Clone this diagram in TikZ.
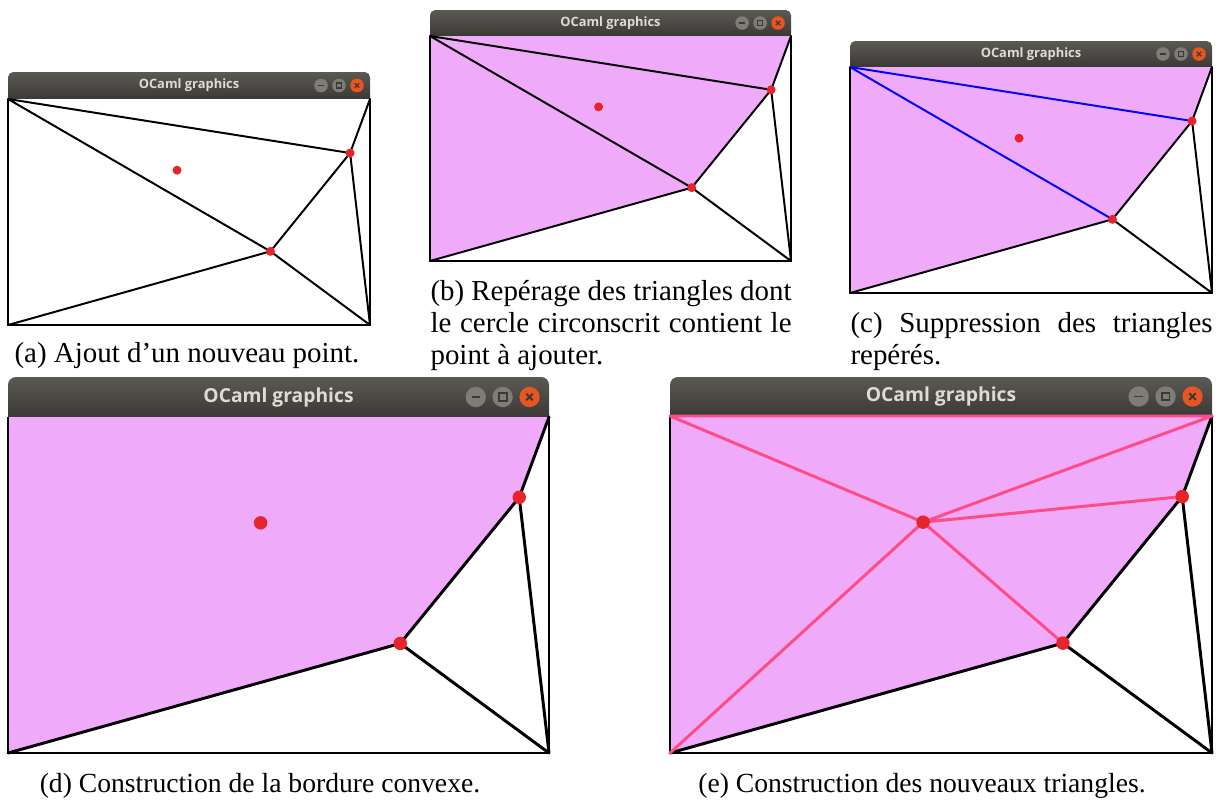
\documentclass[tikz,border=0pt]{standalone}
\usepackage{fontspec}
\setmainfont{Liberation Serif}
\newfontfamily\fontfen{Open Sans}

\definecolor{rose}{RGB}{240,170,250}
\definecolor{rouge}{RGB}{230,36,42}
\definecolor{rosevif}{RGB}{255,76,132}
\definecolor{barhaut}{RGB}{92,89,84}
\definecolor{barbas}{RGB}{58,57,53}
\definecolor{titre}{RGB}{223,219,210}
\definecolor{bouton}{RGB}{126,124,118}
\definecolor{fermer}{RGB}{232,84,34}

% fenetre : nom, x gauche, x droite, haut barre, bas barre, bas
\newcommand{\fenetre}[6]{%
  \pgfmathsetmacro{\echelle}{(#3-#2)/362}
  \coordinate (#1tl) at (#2,#5);
  \coordinate (#1tr) at (#3,#5);
  \coordinate (#1bl) at (#2,#6);
  \coordinate (#1br) at (#3,#6);
  \coordinate (#1p) at ({#2+0.945*(#3-#2)},{#5+0.239*(#6-#5)});
  \coordinate (#1q) at ({#2+0.725*(#3-#2)},{#5+0.674*(#6-#5)});
  \coordinate (#1n) at ({#2+0.467*(#3-#2)},{#5+0.315*(#6-#5)});
  % barre de titre
  \shade[top color=barhaut, bottom color=barbas]
    (#2,#5) [rounded corners=\echelle*2pt] -- (#2,#4) -- (#3,#4) [sharp corners] -- (#3,#5) -- cycle;
  \node[titrefen, scale=\echelle] (#1titre) at ({(#2+#3)/2},{(#4+#5)/2}) {OCaml graphics};
  \coordinate (#1min) at ({#3-49*\echelle},{(#4+#5)/2});
  \coordinate (#1max) at ({#3-31*\echelle},{(#4+#5)/2});
  \coordinate (#1fer) at ({#3-13*\echelle},{(#4+#5)/2});
  \fill[bouton] (#1min) circle[radius=6.8*\echelle] (#1max) circle[radius=6.8*\echelle];
  \fill[fermer] (#1fer) circle[radius=6.8*\echelle];
  \draw[glyphe] (#1min) ++(-2.8*\echelle,0) -- ++(5.6*\echelle,0);
  \draw[glyphe] (#1max) ++(-2.6*\echelle,-2.6*\echelle) rectangle ++(5.2*\echelle,5.2*\echelle);
  \draw[glyphe] (#1fer) ++(-2.2*\echelle,-2.2*\echelle) -- ++(4.4*\echelle,4.4*\echelle)
                (#1fer) ++(-2.2*\echelle,2.2*\echelle) -- ++(4.4*\echelle,-4.4*\echelle);
  % zone de dessin
  \fill[white] (#1tl) rectangle (#1br);
}

\begin{document}
\begin{tikzpicture}[x=0.38pt, y=-0.38pt,
    titrefen/.style={text=titre, inner sep=0pt, font=\fontfen\bfseries\fontsize{4.9}{6}\selectfont},
    glyphe/.style={barbas, line width=\echelle*0.5pt},
    arete/.style={line width=\echelle*0.75pt, line cap=round},
    cadre/.style={line width=\echelle*0.75pt},
    legende/.style={inner sep=0pt, font=\fontsize{11}{12.2}\selectfont}]
  \useasboundingbox (0,0) rectangle (1218,801);

  % (a) ajout du point
  \fenetre{a}{8}{370}{72}{99}{325}
  \draw[arete] (atl) -- (ap) (atl) -- (aq) (abl) -- (aq) (aq) -- (ap)
               (ap) -- (atr) (ap) -- (abr) (aq) -- (abr);
  \draw[cadre] (atl) -- (abl) -- (abr) -- (atr);
  \foreach \s in {p,q,n} \fill[rouge] (a\s) circle[radius=4.5*\echelle];
  \node[legende, anchor=base] (lega) at (187,362) {(a) Ajout d’un nouveau point.};

  % (b) triangles reperes
  \fenetre{b}{430}{791}{10}{36}{261}
  \fill[rose] (btl) -- (btr) -- (bp) -- (bq) -- (bbl) -- cycle;
  \draw[arete] (btl) -- (bp) (btl) -- (bq) (bbl) -- (bq) (bq) -- (bp)
               (bp) -- (btr) (bp) -- (bbr) (bq) -- (bbr);
  \draw[cadre] (btl) -- (bbl) -- (bbr) -- (btr);
  \foreach \s in {p,q,n} \fill[rouge] (b\s) circle[radius=4.5*\echelle];
  \node[legende, anchor=north west, text width=137.2pt, align=justify] (legb) at (430,277)
    {\strut\hyphenpenalty=10000 (b) Repérage des triangles dont le cercle circonscrit contient le point à ajouter.};

  % (c) suppression
  \fenetre{c}{850}{1212}{41}{67}{293}
  \fill[rose] (ctl) -- (ctr) -- (cp) -- (cq) -- (cbl) -- cycle;
  \draw[arete] (cbl) -- (cq) (cq) -- (cp) (cp) -- (ctr) (cp) -- (cbr) (cq) -- (cbr);
  \draw[arete, blue] (ctl) -- (cp) (ctl) -- (cq);
  \draw[cadre] (ctl) -- (cbl) -- (cbr) -- (ctr);
  \foreach \s in {p,q,n} \fill[rouge] (c\s) circle[radius=4.5*\echelle];
  \node[legende, anchor=north west, text width=137.6pt, align=justify] (legc) at (850,309.5)
    {\strut\hyphenpenalty=10000 (c) Suppression des triangles repérés.};

  % (d) bordure convexe
  \fenetre{d}{8}{549}{377}{417}{753}
  \fill[rose] (dtl) -- (dtr) -- (dp) -- (dq) -- (dbl) -- cycle;
  \draw[arete] (dbl) -- (dq) (dq) -- (dp) (dp) -- (dtr) (dp) -- (dbr) (dq) -- (dbr);
  \draw[cadre] (dtl) -- (dbl) -- (dbr) -- (dtr);
  \foreach \s in {p,q,n} \fill[rouge] (d\s) circle[radius=4.5*\echelle];
  \node[legende, font=\fontsize{10.5}{12.2}\selectfont, anchor=base] (legd) at (260,792)
    {(d) Construction de la bordure convexe.};

  % (e) nouveaux triangles
  \fenetre{e}{670}{1212}{377}{416}{753}
  \fill[rose] (etl) -- (etr) -- (ep) -- (eq) -- (ebl) -- cycle;
  \draw[arete] (ebl) -- (eq) (eq) -- (ep) (ep) -- (etr) (ep) -- (ebr) (eq) -- (ebr);
  \draw[cadre] (etl) -- (ebl) -- (ebr) -- (etr);
  \draw[arete, rosevif] (etl) -- (etr) (en) -- (etl) (en) -- (etr) (en) -- (ep)
                        (en) -- (eq) (en) -- (ebl);
  \foreach \s in {p,q,n} \fill[rouge] (e\s) circle[radius=4.5*\echelle];
  \node[legende, font=\fontsize{10.5}{12.2}\selectfont, anchor=base] (lege) at (922,792)
    {(e) Construction des nouveaux triangles.};
\end{tikzpicture}
\end{document}
